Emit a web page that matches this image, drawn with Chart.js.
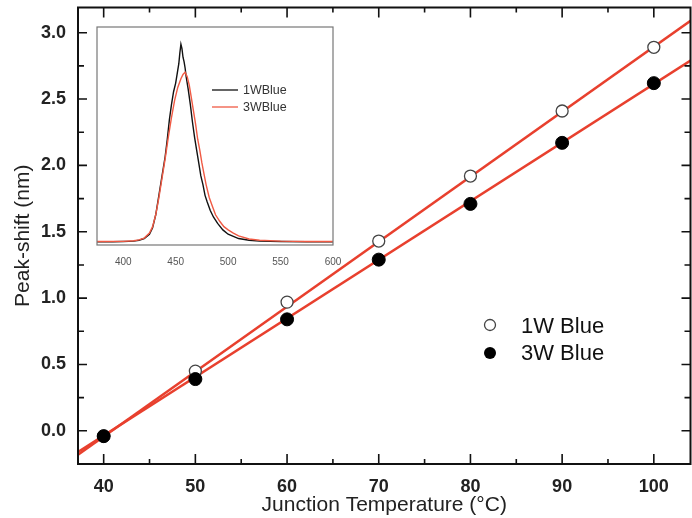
<!DOCTYPE html>
<html>
<head>
<meta charset="utf-8">
<script src="https://cdn.jsdelivr.net/npm/chart.js@4.4.1/dist/chart.umd.min.js"></script>
<style>
  html, body { margin: 0; padding: 0; background: #fff; overflow: hidden; }
  #wrap { position: relative; width: 692px; height: 518px; overflow: hidden; }
  #main { position: absolute; left: 0; top: 0; }
  #inset { position: absolute; left: 90px; top: 20px; }
</style>
</head>
<body>
<div id="wrap">
  <!-- a bit wider than the page: the point overflow padding pushes the right frame past the window edge, as in the original -->
  <canvas id="main" width="698" height="518"></canvas>
  <canvas id="inset" width="255" height="248"></canvas>
</div>
<script>
// ---- main plot data ----
const temps = [40, 50, 60, 70, 80, 90, 100];
const shift1W = [-0.04, 0.45, 0.97, 1.43, 1.92, 2.41, 2.89];
const shift3W = [-0.04, 0.39, 0.84, 1.29, 1.71, 2.17, 2.62];
// fitted lines, end points
const fit1W = [[37.2, -0.18], [104, 3.09]];
const fit3W = [[37.2, -0.16], [104, 2.79]];
const xTicks = [40, 50, 60, 70, 80, 90, 100];
const yTicks = [0, 0.5, 1.0, 1.5, 2.0, 2.5, 3.0];

// ---- inset spectra ----
const wl1W = [375, 390, 400, 410, 415, 420, 425, 428, 431, 434, 437, 440, 442, 444, 446, 448, 450, 451, 452, 453, 454, 455, 456, 457, 458, 459, 460, 462, 464, 466, 468, 470, 472, 474, 476, 478, 480, 483, 486, 490, 495, 500, 505, 510, 520, 530, 550, 575, 600];
const int1W = [0.005, 0.005, 0.006, 0.008, 0.012, 0.02, 0.04, 0.07, 0.13, 0.22, 0.31, 0.40, 0.48, 0.57, 0.64, 0.70, 0.74, 0.77, 0.80, 0.83, 0.88, 0.92, 0.90, 0.86, 0.84, 0.81, 0.77, 0.71, 0.64, 0.56, 0.49, 0.43, 0.37, 0.31, 0.27, 0.22, 0.19, 0.15, 0.12, 0.09, 0.06, 0.04, 0.03, 0.02, 0.012, 0.008, 0.006, 0.005, 0.005];
const wl3W = [375, 400, 410, 415, 420, 425, 428, 431, 434, 437, 440, 443, 446, 449, 452, 455, 457, 459, 461, 463, 465, 467, 469, 471, 473, 475, 477, 479, 482, 485, 488, 492, 496, 500, 505, 510, 520, 530, 550, 575, 600];
const int3W = [0.006, 0.007, 0.01, 0.014, 0.022, 0.045, 0.075, 0.13, 0.21, 0.30, 0.39, 0.49, 0.58, 0.66, 0.72, 0.76, 0.78, 0.79, 0.77, 0.73, 0.67, 0.61, 0.55, 0.48, 0.43, 0.37, 0.32, 0.27, 0.21, 0.17, 0.13, 0.10, 0.075, 0.06, 0.045, 0.032, 0.018, 0.012, 0.008, 0.006, 0.006];
const insetTicks = [400, 450, 500, 550, 600];

const RED = '#e8402e';
const FONT = '"Liberation Sans", Arial, sans-serif';
const toPts = (xs, ys) => xs.map((x, i) => ({ x: x, y: ys[i] }));
const noPad = s => { s.paddingTop = 0; s.paddingBottom = 0; s.paddingLeft = 0; s.paddingRight = 0; };

// frame + inward ticks on all four sides
const frameTicks = {
  id: 'frameTicks',
  afterDatasetsDraw(chart) {
    const ctx = chart.ctx, a = chart.chartArea;
    const xs = chart.scales.x, ys = chart.scales.y;
    ctx.save();
    ctx.strokeStyle = '#111';
    ctx.lineWidth = 2;
    ctx.strokeRect(a.left, a.top, a.right - a.left, a.bottom - a.top);
    ctx.lineWidth = 1.6;
    ctx.beginPath();
    xTicks.forEach(v => {
      const px = xs.getPixelForValue(v);
      ctx.moveTo(px, a.bottom); ctx.lineTo(px, a.bottom - 10);
      ctx.moveTo(px, a.top); ctx.lineTo(px, a.top + 10);
      const m = xs.getPixelForValue(v + 5);
      if (m < a.right) {
        ctx.moveTo(m, a.bottom); ctx.lineTo(m, a.bottom - 5);
        ctx.moveTo(m, a.top); ctx.lineTo(m, a.top + 5);
      }
    });
    yTicks.forEach(v => {
      const py = ys.getPixelForValue(v);
      ctx.moveTo(a.left, py); ctx.lineTo(a.left + 9, py);
      ctx.moveTo(a.right, py); ctx.lineTo(a.right - 9, py);
      const m = ys.getPixelForValue(v + 0.25);
      if (m > a.top) {
        ctx.moveTo(a.left, m); ctx.lineTo(a.left + 6, m);
        ctx.moveTo(a.right, m); ctx.lineTo(a.right - 6, m);
      }
    });
    ctx.stroke();
    ctx.restore();
  }
};

// legend of the main plot
const mainLegend = {
  id: 'mainLegend',
  afterDraw(chart) {
    const ctx = chart.ctx;
    ctx.save();
    ctx.font = '22px ' + FONT;
    ctx.textBaseline = 'middle';
    ctx.lineWidth = 1.3;
    ctx.strokeStyle = '#444';
    ctx.beginPath(); ctx.arc(490, 325, 5.5, 0, Math.PI * 2);
    ctx.fillStyle = '#fff'; ctx.fill(); ctx.stroke();
    ctx.beginPath(); ctx.arc(490, 353, 6, 0, Math.PI * 2);
    ctx.fillStyle = '#000'; ctx.fill();
    ctx.fillStyle = '#111';
    ctx.fillText('1W Blue', 521, 327);
    ctx.fillText('3W Blue', 521, 354);
    ctx.restore();
  }
};

new Chart(document.getElementById('main'), {
  type: 'scatter',
  data: {
    datasets: [
      { label: '1W Blue', data: toPts(temps, shift1W), order: 0,
        pointRadius: 6, pointBackgroundColor: '#fff', pointBorderColor: '#444', pointBorderWidth: 1.3 },
      { label: '3W Blue', data: toPts(temps, shift3W), order: -1,
        pointRadius: 6.5, pointBackgroundColor: '#000', pointBorderColor: '#000', pointBorderWidth: 1 },
      { label: 'fit1', data: fit1W.map(p => ({ x: p[0], y: p[1] })), showLine: true, order: 1,
        pointRadius: 0, borderColor: RED, borderWidth: 2.5 },
      { label: 'fit3', data: fit3W.map(p => ({ x: p[0], y: p[1] })), showLine: true, order: 1,
        pointRadius: 0, borderColor: RED, borderWidth: 2.5 }
    ]
  },
  options: {
    responsive: false,
    animation: false,
    layout: { padding: { top: 7, right: 0, left: 0, bottom: 0 } },
    plugins: { legend: { display: false }, tooltip: { enabled: false } },
    scales: {
      x: {
        type: 'linear', min: 37.2, max: 104,
        grid: { display: false, tickLength: 0 }, border: { display: false },
        afterBuildTicks: s => { s.ticks = xTicks.map(v => ({ value: v })); },
        afterFit: s => { s.height = 54; noPad(s); },
        ticks: { padding: 12, color: '#222', maxRotation: 0,
          font: { family: FONT, size: 18, weight: 'bold' } },
        title: { display: true, text: 'Junction Temperature (\u00b0C)', color: '#222',
          padding: { top: 0, bottom: 0 },
          font: { family: FONT, size: 21 } }
      },
      y: {
        min: -0.25, max: 3.19,
        grid: { display: false, tickLength: 0 }, border: { display: false },
        afterBuildTicks: s => { s.ticks = yTicks.map(v => ({ value: v })); },
        afterFit: s => { s.width = 78; noPad(s); },
        ticks: { padding: 12, color: '#222', callback: v => v.toFixed(1),
          font: { family: FONT, size: 18, weight: 'bold' } },
        title: { display: true, text: 'Peak-shift (nm)', color: '#222',
          padding: { top: 11, bottom: 0 },
          font: { family: FONT, size: 21 } }
      }
    }
  },
  plugins: [frameTicks, mainLegend]
});

// inset: white panel, gray frame, own legend
const insetDeco = {
  id: 'insetDeco',
  beforeDatasetsDraw(chart) {
    const ctx = chart.ctx, a = chart.chartArea;
    ctx.save();
    ctx.fillStyle = '#fff';
    ctx.fillRect(a.left, a.top, a.right - a.left, a.bottom - a.top);
    ctx.restore();
  },
  afterDraw(chart) {
    const ctx = chart.ctx, a = chart.chartArea;
    ctx.save();
    ctx.strokeStyle = '#777';
    ctx.lineWidth = 1.2;
    ctx.strokeRect(a.left, a.top, a.right - a.left, a.bottom - a.top);
    ctx.font = '12.5px ' + FONT;
    ctx.textBaseline = 'middle';
    chart.data.datasets.forEach((d, i) => {
      const y = 70 + i * 17;
      ctx.strokeStyle = d.borderColor;
      ctx.lineWidth = 1.3;
      ctx.beginPath(); ctx.moveTo(122, y); ctx.lineTo(148, y); ctx.stroke();
      ctx.fillStyle = '#333';
      ctx.fillText(d.label, 153, y + 1);
    });
    ctx.restore();
  }
};

new Chart(document.getElementById('inset'), {
  type: 'scatter',
  data: {
    datasets: [
      { label: '1WBlue', data: toPts(wl1W, int1W), showLine: true, pointRadius: 0,
        borderColor: '#111', borderWidth: 1.4, order: 1 },
      { label: '3WBlue', data: toPts(wl3W, int3W), showLine: true, pointRadius: 0,
        borderColor: '#f05a44', borderWidth: 1.4, order: 0 }
    ]
  },
  options: {
    responsive: false,
    animation: false,
    layout: { padding: { top: 7, left: 7, right: 12, bottom: 0 } },
    plugins: { legend: { display: false }, tooltip: { enabled: false } },
    scales: {
      x: {
        type: 'linear', min: 375, max: 600,
        grid: { display: false }, border: { display: false },
        afterBuildTicks: s => { s.ticks = insetTicks.map(v => ({ value: v })); },
        afterFit: s => { s.height = 23; },
        ticks: { padding: 3, color: '#555', maxRotation: 0,
          font: { family: FONT, size: 10 } }
      },
      y: { display: false, min: -0.01, max: 1.0 }
    }
  },
  plugins: [insetDeco]
});
</script>
</body>
</html>
